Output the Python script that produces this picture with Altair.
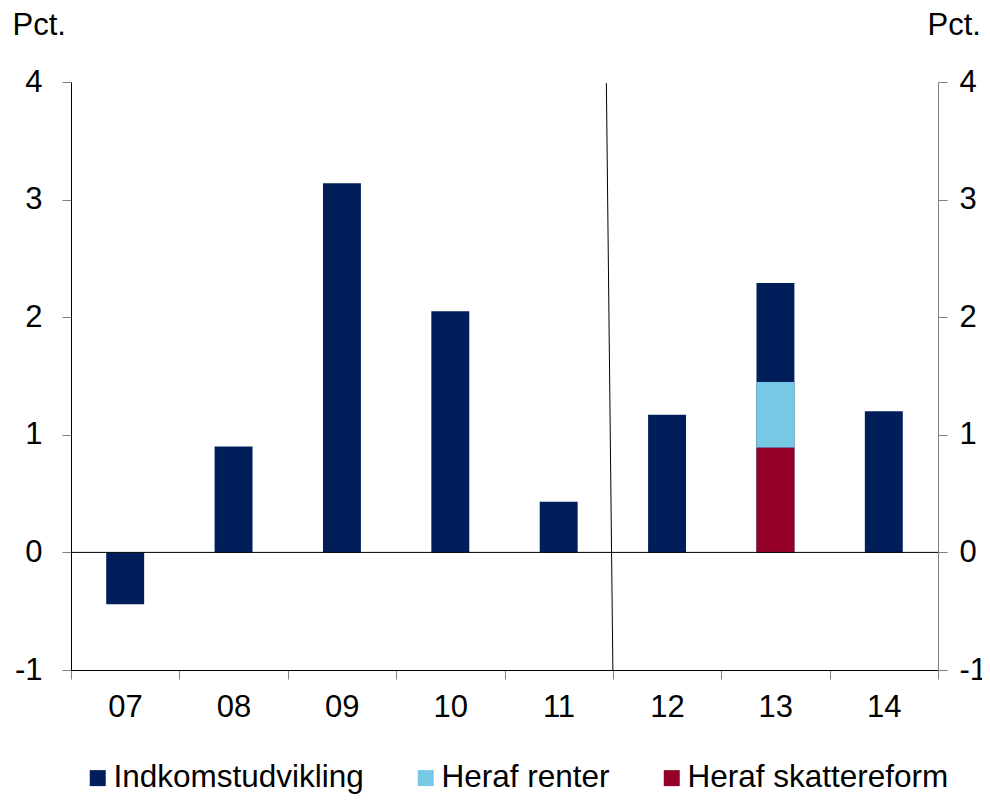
import altair as alt
import pandas as pd

years = ["07", "08", "09", "10", "11", "12", "13", "14"]
indkomst = [-0.44, 0.90, 3.14, 2.05, 0.43, 1.17, 2.29, 1.20]
# stacked detail for 2013
renter_year = "13"
renter_range = [0.89, 1.45]
skat_year = "13"
skat_range = [0.0, 0.89]
series = ["Indkomstudvikling", "Heraf renter", "Heraf skattereform"]
colors = ["#001E5A", "#76C8E5", "#95002B"]
# separator line between actual and forecast (x position in category units)
sep_x = [4.94, 5.0]
sep_y = [3.99, -1.0]

rows = []
for i, (yr, v) in enumerate(zip(years, indkomst)):
    rows.append({"pos": i, "series": series[0], "lo": 0.0, "hi": v})
rows.append({"pos": years.index(renter_year), "series": series[1],
             "lo": renter_range[0], "hi": renter_range[1]})
rows.append({"pos": years.index(skat_year), "series": series[2],
             "lo": skat_range[0], "hi": skat_range[1]})
df = pd.DataFrame(rows)
df["order"] = df["series"].map({s: k for k, s in enumerate(series)})

FONT = "Liberation Sans"
FS = 31

label_arr = "[" + ",".join("'" + y + "'" for y in years) + ",'']"

xscale = alt.Scale(domain=[0, 8], nice=False, zero=False)
yscale = alt.Scale(domain=[-1, 4], nice=False, zero=False)

x_axis = alt.Axis(values=list(range(9)), labelExpr=label_arr + "[datum.value]",
                  labelOffset=54, labelFlush=False, labelOverlap=False,
                  title=None, grid=False, tickSize=9, tickColor="#808080",
                  domainColor="#000000", labelFontSize=FS, labelFont=FONT,
                  labelColor="#000000", labelPadding=13)

y_left = alt.Axis(values=[-1, 0, 1, 2, 3, 4], labelExpr="'' + datum.value",
                  grid=False, tickSize=9, tickColor="#808080", domainColor="#000000",
                  labelFontSize=FS, labelFont=FONT, labelColor="#000000",
                  labelPadding=20, title="Pct.", titleAngle=0, titleAlign="left",
                  titleBaseline="alphabetic", titleX=-59, titleY=-48,
                  titleFont=FONT, titleFontSize=FS, titleFontWeight="normal",
                  titleColor="#000000", orient="left")

y_right = alt.Axis(values=[-1, 0, 1, 2, 3, 4], labelExpr="'' + datum.value",
                   grid=False, tickSize=9, tickColor="#808080", domainColor="#808080",
                   labelFontSize=FS, labelFont=FONT, labelColor="#000000",
                   labelPadding=12, title="Pct.", titleAngle=0, titleAlign="left",
                   titleBaseline="alphabetic", titleX=-11, titleY=-48,
                   titleFont=FONT, titleFontSize=FS, titleFontWeight="normal",
                   titleColor="#000000", orient="right")

base = alt.Chart(df)

bars = base.mark_bar(size=1).transform_calculate(
    x0="datum.pos + 0.325", x1="datum.pos + 0.675"
).encode(
    x=alt.X("x0:Q", scale=xscale, axis=x_axis),
    x2="x1:Q",
    y=alt.Y("lo:Q", scale=yscale, axis=y_left),
    y2="hi:Q",
    color=alt.Color("series:N", scale=alt.Scale(domain=series, range=colors),
                    legend=alt.Legend(title=None, orient="none", direction="horizontal",
                                      legendX=11, legendY=680, symbolType="square",
                                      symbolSize=256, symbolStrokeWidth=0,
                                      labelFont=FONT, labelFontSize=31.5,
                                      labelColor="#000000", labelLimit=0,
                                      labelOffset=0, columnPadding=46)),
    order=alt.Order("order:Q"),
)

zero = alt.Chart(pd.DataFrame({"z": [0]})).mark_rule(color="#000000", strokeWidth=1).encode(
    y=alt.Y("z:Q", scale=yscale, axis=y_right)
)

sep_df = pd.DataFrame({"x": [sep_x[0]], "x2": [sep_x[1]], "y": [sep_y[0]], "y2": [sep_y[1]]})
sep = alt.Chart(sep_df).mark_rule(color="#000000", strokeWidth=1).encode(
    x=alt.X("x:Q", scale=xscale),
    x2="x2:Q",
    y=alt.Y("y:Q", scale=yscale, axis=None),
    y2="y2:Q",
)

chart = alt.layer(bars, zero, sep).resolve_axis(y="independent").properties(
    width=867, height=588,
    autosize=alt.AutoSizeParams(type="none"),
    padding={"left": 63, "top": 74, "right": 44, "bottom": 124},
    background="white",
).configure_view(stroke=None, strokeWidth=0)

chart.save("out.html", embed_options={"renderer": "svg", "actions": False})
